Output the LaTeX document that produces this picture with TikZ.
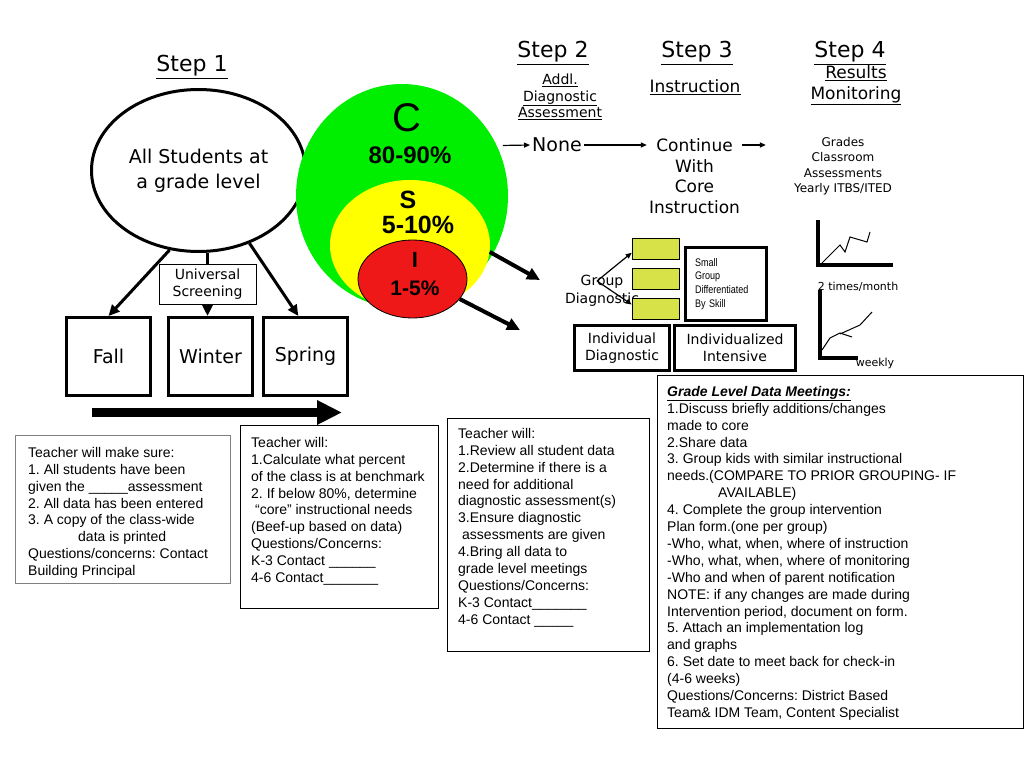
\documentclass[tikz,border=0pt]{standalone}
\usepackage{fontspec}
\setmainfont{Liberation Sans}
\newfontfamily\verdana{DejaVu Sans}
\newfontfamily\narrowsans[FakeStretch=0.82]{Liberation Sans}
\usepackage{tikz}
\usetikzlibrary{arrows.meta, positioning, shapes.geometric}
\frenchspacing

\definecolor{coregreen}{RGB}{0,238,0}
\definecolor{suppyellow}{RGB}{255,255,0}
\definecolor{intensred}{RGB}{238,24,24}
\definecolor{groupfill}{RGB}{214,226,72}

\begin{document}
\begin{tikzpicture}[
    x=1pt, y=-1pt,
    heading/.style={font=\verdana\fontsize{22}{26}\selectfont, inner sep=1pt},
    sublabel/.style={font=\verdana\fontsize{14}{16.5}\selectfont, align=center, inner sep=1pt},
    season/.style={draw, line width=3pt, minimum width=84pt, minimum height=78pt,
                   font=\verdana\fontsize{19}{22}\selectfont},
    tier/.style={ellipse, inner sep=0pt},
    pct/.style={font=\bfseries\fontsize{24}{28}\selectfont, inner sep=0pt},
    groupbox/.style={draw, fill=groupfill, line width=0.6pt, minimum width=47pt,
                     minimum height=21pt, inner sep=0pt},
    planbox/.style={draw, line width=3pt, align=center, minimum height=45pt,
                    font=\verdana\fontsize{14}{17}\selectfont, inner sep=2pt},
    notebox/.style={draw, line width=0.9pt, anchor=north west, inner sep=0pt},
    notes/.style={align=left, inner sep=0pt, font=\fontsize{14}{16.9}\selectfont},
    arrow/.style={-{Triangle[length=11pt, width=10pt]}, line width=3pt},
    thinarrow/.style={-{Triangle[length=6pt, width=5pt]}, line width=1.2pt},
    axis/.style={line width=4.5pt},
]
    \useasboundingbox (0,0) rectangle (1024,768);
    \fill[white] (0,0) rectangle (1024,768);

    % step 1
    \node[heading] (step1) at (192,67) {\underline{Step 1}};
    \node[draw, ellipse, line width=3pt, minimum width=214pt, minimum height=162pt, align=center,
          font=\verdana\fontsize{19}{25}\selectfont] (students) at (198.5,170.5) {All Students at\\ a grade level};
    \node[draw, line width=0.8pt, minimum width=97pt, minimum height=40pt, align=center, inner sep=1pt,
          font=\verdana\fontsize{14}{17}\selectfont] (screen) at (207.5,284) {Universal\\Screening};
    \node[season] (fall) at (108.5,356.5) {Fall};
    \node[season, right=15pt of fall] (winter) {Winter};
    \node[season, right=8pt of winter] (spring) {Spring};

    \draw[arrow] (students.250) -- (fall.north);
    \draw[line width=3pt] (students.south -| screen.north) -- (screen.north);
    \draw[arrow] (screen.south) -- (screen.south |- winter.north);
    \draw[arrow] (students.305) -- (spring.100);

    \coordinate (termStart) at (92,412.5);
    \coordinate (termEnd) at (342,412.5);
    \draw[-{Triangle[length=25pt, width=23pt]}, line width=9pt] (termStart) -- (termEnd);

    % tiers
    \node[tier, fill=coregreen, minimum width=212pt, minimum height=224pt] (core) at (402,196) {};
    \node[tier, fill=suppyellow, minimum width=160pt, minimum height=130pt] (supp) at (410,245) {};
    \node[tier, fill=intensred, draw, line width=0.8pt, minimum width=109pt, minimum height=78pt] (intens) at (412.5,279) {};
    \node[font=\fontsize{40}{44}\selectfont, inner sep=0pt] (coreC) at (407,118) {C};
    \node[pct] (corePct) at (410,155) {80-90\%};
    \node[pct, font=\bfseries\fontsize{25}{28}\selectfont] (suppS) at (408,200) {S};
    \node[pct, font=\bfseries\fontsize{25}{28}\selectfont] (suppPct) at (418,225) {5-10\%};
    \node[pct, font=\bfseries\fontsize{22}{26}\selectfont] (intensI) at (415,260) {I};
    \node[pct, font=\bfseries\fontsize{21}{24}\selectfont] (intensPct) at (415,288) {1-5\%};

    \coordinate (toGroup) at (540,280);
    \coordinate (toIndiv) at (520,330);
    \draw[arrow, -{Triangle[length=13pt, width=12pt]}, line width=4pt] (supp.355) -- (toGroup);
    \draw[arrow, -{Triangle[length=13pt, width=12pt]}, line width=4pt] (intens.337) -- (toIndiv);

    % steps 2 to 4
    \node[heading] (step2) at (553,53) {\underline{Step 2}};
    \node[sublabel] (addl) at (560,97) {\underline{Addl.}\\\underline{Diagnostic}\\\underline{Assessment}};
    \node[heading] (step3) at (697,53) {\underline{Step 3}};
    \node[sublabel, font=\verdana\fontsize{17}{21}\selectfont] (instr) at (695,87) {\underline{Instruction}};
    \node[heading] (step4) at (850,53) {\underline{Step 4}};
    \node[sublabel, font=\verdana\fontsize{17}{21}\selectfont] (results) at (856,85) {\underline{Results}\\\underline{Monitoring}};

    \node[font=\verdana\fontsize{19}{22}\selectfont, inner sep=2pt] (none) at (557,145) {None};
    \node[font=\verdana\fontsize{17}{20.5}\selectfont, align=center, inner sep=2pt] (cont) at (694.5,176) {Continue\\With\\Core\\Instruction};
    \node[sublabel, font=\verdana\fontsize{12}{15.5}\selectfont] (grades) at (843,166) {Grades\\Classroom\\Assessments\\Yearly ITBS/ITED};

    \draw[thinarrow, shorten <=6pt] (core.28) -- (none.west);
    \draw[thinarrow] (none.east) -- (none.east -| cont.west);
    \draw[thinarrow, shorten >=27pt] (none.east -| cont.east) -- (none.east -| grades.west);

    % monitoring graphs
    \draw[axis] (818,220) -- (818,265) -- (893,265);
    \draw[line width=1pt] (822,263) -- (840,245) -- (845,252) -- (850,237) -- (867,242) -- (870,232);
    \node[font=\verdana\fontsize{11}{13}\selectfont, inner sep=0pt] (twice) at (858,287) {2 times/month};
    \draw[axis] (820,290) -- (820,358) -- (858,358);
    \draw[line width=1pt] (822,350) -- (830,338) -- (840,333) -- (852,337);
    \draw[line width=1pt] (840,334) -- (860,325) -- (872,312);
    \node[font=\verdana\fontsize{11}{13}\selectfont, inner sep=0pt] (weekly) at (875,363) {weekly};

    % groups
    \node[font=\verdana\fontsize{14}{18}\selectfont, align=center, inner sep=0pt] (grpdiag) at (602,291) {Group\\Diagnostic};
    \node[groupbox] (grp1) at (655.5,248.5) {};
    \node[groupbox, below=8.5pt of grp1] (grp2) {};
    \node[groupbox, below=8.5pt of grp2] (grp3) {};
    \coordinate (grpfork) at (597,281);
    \draw[thinarrow] (grpfork) -- (grp1.190);
    \draw[thinarrow] (grpfork) -- (grp3.170);
    \node[draw, line width=3pt, minimum width=81pt, minimum height=73pt, inner xsep=9pt, text width=62pt,
          align=left, font=\narrowsans\fontsize{11}{13.7}\selectfont] (smallgrp) at (726,284) {Small\\Group\\Differentiated\\By Skill};
    \node[planbox, minimum width=95pt] (indiag) at (622,348) {Individual\\Diagnostic};
    \node[planbox, minimum width=121pt, right=2pt of indiag] (inintens) {Individualized\\Intensive};

    % teacher notes
    \node[notebox, draw=gray, minimum width=215pt, minimum height=148pt] (sureBox) at (15,435) {};
    \node[notes, below right=12pt and 13pt of sureBox.north west] (sureText) {Teacher will make sure:\\
        1. All students have been\\
        given the \_\_\_\_\_assessment\\
        2. All data has been entered\\
        3. A copy of the class-wide\\
        \hspace*{50pt}data is printed\\
        Questions/concerns: Contact\\
        Building Principal};

    \node[notebox, minimum width=198pt, minimum height=183pt] (calcBox) at (240,425) {};
    \node[notes, below right=12pt and 11pt of calcBox.north west] (calcText) {Teacher will:\\
        1.Calculate what percent\\
        of the class is at benchmark\\
        2. If below 80\%, determine\\
        \hspace*{4pt}“core” instructional needs\\
        (Beef-up based on data)\\
        Questions/Concerns:\\
        K-3 Contact \_\_\_\_\_\_\\
        4-6 Contact\_\_\_\_\_\_\_};

    \node[notebox, minimum width=202pt, minimum height=233pt] (reviewBox) at (447,418) {};
    \node[notes, below right=10pt and 11pt of reviewBox.north west] (reviewText) {Teacher will:\\
        1.Review all student data\\
        2.Determine if there is a\\
        need for additional\\
        diagnostic assessment(s)\\
        3.Ensure diagnostic\\
        \hspace*{4pt}assessments are given\\
        4.Bring all data to\\
        grade level meetings\\
        Questions/Concerns:\\
        K-3 Contact\_\_\_\_\_\_\_\\
        4-6 Contact \_\_\_\_\_};

    \node[notebox, minimum width=366pt, minimum height=353pt] (meetBox) at (657,375) {};
    \node[notes, below right=11pt and 10pt of meetBox.north west] (meetText) {\textbf{\textit{\underline{Grade Level Data Meetings:}}}\\
        1.Discuss briefly additions/changes\\
        made to core\\
        2.Share data\\
        3. Group kids with similar instructional\\
        needs.(COMPARE TO PRIOR GROUPING- IF\\
        \hspace*{51pt}AVAILABLE)\\
        4. Complete the group intervention\\
        Plan form.(one per group)\\
        -Who, what, when, where of instruction\\
        -Who, what, when, where of monitoring\\
        -Who and when of parent notification\\
        NOTE: if any changes are made during\\
        Intervention period, document on form.\\
        5. Attach an implementation log\\
        and graphs\\
        6. Set date to meet back for check-in\\
        (4-6 weeks)\\
        Questions/Concerns: District Based\\
        Team\& IDM Team, Content Specialist};
\end{tikzpicture}
\end{document}
